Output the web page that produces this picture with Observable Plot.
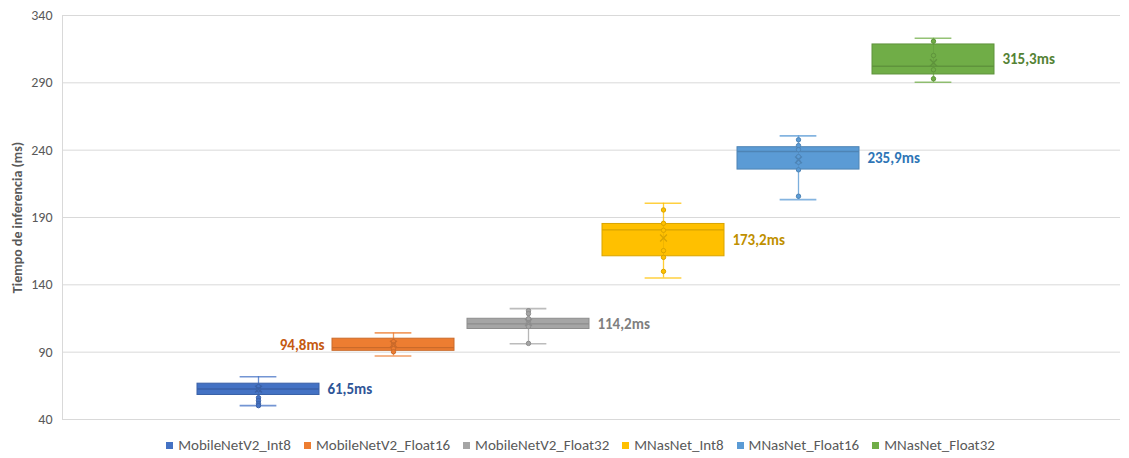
<!DOCTYPE html>
<html>
<head>
<meta charset="utf-8">
<script src="https://cdn.jsdelivr.net/npm/d3@7"></script>
<script src="https://cdn.jsdelivr.net/npm/@observablehq/plot@0.6"></script>
<style>
  html, body { margin: 0; padding: 0; background: #fff; }
  #chart { width: 1129px; font-family: Carlito, "Liberation Sans Narrow", Lato, sans-serif; }
  .legend { display: flex; justify-content: center; gap: 13px; font-size: 15px; color: #595959;
            height: 26px; align-items: center; padding-left: 32px; }
  .legend span.item { display: inline-flex; align-items: center; gap: 5px; }
  .legend span.sw { width: 7px; height: 7px; display: inline-block; }
</style>
</head>
<body>
<div id="chart"></div>
<script>
// Inference time per model / quantisation variant (ms)
const series = ["MobileNetV2_Int8", "MobileNetV2_Float16", "MobileNetV2_Float32",
                "MNasNet_Int8", "MNasNet_Float16", "MNasNet_Float32"];
const colors      = ["#4472C4", "#ED7D31", "#A5A5A5", "#FFC000", "#5B9BD5", "#70AD47"];
const labelColors = ["#2F5597", "#C55A11", "#7F7F7F", "#BF9000", "#2E75B6", "#548235"];

const whiskerLow  = [50.3, 87.2, 96.3, 145.1, 203.3, 290.4];
const q1          = [58.2, 91.0, 107.2, 161.2, 225.6, 296.2];
const median      = [62.6, 93.4, 111.0, 180.8, 239.0, 302.3];
const q3          = [66.6, 100.0, 114.8, 185.2, 242.2, 318.5];
const whiskerHigh = [71.8, 104.3, 122.3, 200.6, 250.6, 323.1];
const meanMark    = [62.5, 96.0, 112.1, 174.8, 232.8, 304.9];
const innerPoints = [
  [64.4, 62.1, 56.2, 54.0, 51.7, 50.3],
  [97.8, 95.6, 92.6, 90.3],
  [120.8, 118.6, 114.9, 111.9, 109.0, 96.5],
  [195.6, 185.7, 180.5, 165.4, 160.4, 150.0],
  [247.7, 243.4, 240.4, 235.2, 231.0, 225.4, 205.8],
  [320.9, 310.3, 299.7, 293.0]
];
const labels = ["61,5ms", "94,8ms", "114,2ms", "173,2ms", "235,9ms", "315,3ms"];
const yTicks = [40, 90, 140, 190, 240, 290, 340];

// tables for the marks
const boxes = series.map((s, i) => ({
  series: s, color: colors[i], labelColor: labelColors[i],
  lo: whiskerLow[i], q1: q1[i], med: median[i], q3: q3[i], hi: whiskerHigh[i],
  mean: meanMark[i], label: labels[i], mid: (q1[i] + q3[i]) / 2
}));
const points = innerPoints.flatMap((vals, i) => vals.map(v => ({series: series[i], color: colors[i], v})));

const xRange = [189, 1001];
const padIn = 0.1, padOut = 0.05;
const band = d3.scaleBand(series, xRange).paddingInner(padIn).paddingOuter(padOut);
const bw = band.bandwidth();
const capInset = bw * 0.35;
const darker = c => d3.color(c).darker(0.45).formatHex();

const leftLabel = new Set(["MobileNetV2_Float16"]);

const chart = Plot.plot({
  width: 1129,
  height: 432,
  marginTop: 15,
  marginBottom: 13,
  marginLeft: 62,
  marginRight: 9,
  style: {fontFamily: 'Carlito, "Liberation Sans Narrow", Lato, sans-serif', background: "#fff"},
  x: {domain: series, range: xRange, paddingInner: padIn, paddingOuter: padOut, axis: null},
  y: {domain: [40, 340], ticks: yTicks},
  marks: [
    Plot.gridY(yTicks, {stroke: "#D9D9D9", strokeOpacity: 1}),
    Plot.frame({anchor: "left", stroke: "#D9D9D9"}),
    Plot.axisY(yTicks, {tickSize: 0, tickPadding: 10, fontSize: 14, fill: "#595959",
      label: "Tiempo de inferencia (ms)", labelAnchor: "center", labelArrow: "none", labelOffset: 50}),
    // whiskers and caps
    Plot.ruleX(boxes, {x: "series", y1: "lo", y2: "q1", stroke: "color", strokeWidth: 1.3, strokeOpacity: 0.8}),
    Plot.ruleX(boxes, {x: "series", y1: "q3", y2: "hi", stroke: "color", strokeWidth: 1.3, strokeOpacity: 0.8}),
    Plot.tickY(boxes, {x: "series", y: "lo", stroke: "color", strokeWidth: 1.6, strokeOpacity: 0.75, insetLeft: capInset, insetRight: capInset}),
    Plot.tickY(boxes, {x: "series", y: "hi", stroke: "color", strokeWidth: 1.6, strokeOpacity: 0.75, insetLeft: capInset, insetRight: capInset}),
    // box
    Plot.barY(boxes, {x: "series", y1: "q1", y2: "q3", fill: "color", stroke: d => darker(d.color), strokeWidth: 1}),
    Plot.tickY(boxes, {x: "series", y: "med", stroke: d => darker(d.color), strokeWidth: 1.4}),
    // whisker line running through the box
    Plot.ruleX(boxes, {x: "series", y1: "q1", y2: "q3", stroke: d => darker(d.color), strokeWidth: 0.8, strokeOpacity: 0.5}),
    // inner points and mean
    Plot.dot(points, {x: "series", y: "v", r: 2.2, fill: "color", stroke: d => darker(d.color), strokeWidth: 1}),
    Plot.dot(boxes, {x: "series", y: "mean", symbol: "times", r: 3.2, stroke: d => darker(d.color), strokeWidth: 1.4}),
    // value labels
    Plot.text(boxes.filter(d => !leftLabel.has(d.series)), {x: "series", y: "mid", text: "label", fill: "labelColor",
      textAnchor: "start", dx: bw / 2 + 8, fontSize: 15, fontWeight: "bold"}),
    Plot.text(boxes.filter(d => leftLabel.has(d.series)), {x: "series", y: "mid", text: "label", fill: "labelColor",
      textAnchor: "end", dx: -(bw / 2 + 8), fontSize: 15, fontWeight: "bold"})
  ]
});

// axis title styling
d3.select(chart).selectAll("[aria-label='y-axis label'] text, g[aria-label='y-axis label']")
  .attr("font-weight", "bold").attr("fill", "#595959");

const root = document.getElementById("chart");
root.append(chart);

const legend = document.createElement("div");
legend.className = "legend";
series.forEach((s, i) => {
  const item = document.createElement("span");
  item.className = "item";
  const sw = document.createElement("span");
  sw.className = "sw";
  sw.style.background = colors[i];
  item.append(sw, document.createTextNode(s));
  legend.append(item);
});
root.append(legend);
</script>
</body>
</html>
